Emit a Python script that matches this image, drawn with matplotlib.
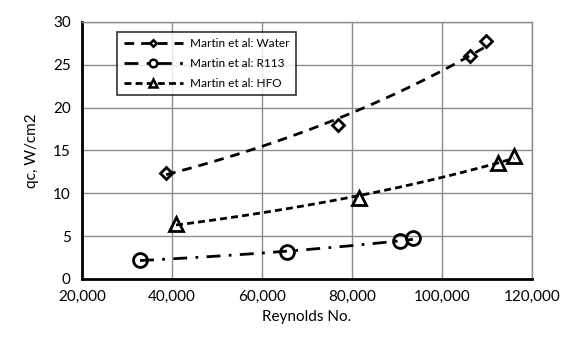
import matplotlib.pyplot as plt
import numpy as np
from matplotlib.ticker import FuncFormatter

plt.rcParams['font.family'] = ['Lato', 'DejaVu Sans']

re_water = [38700, 76900, 106200, 109800]
qc_water = [12.4, 18.0, 26.0, 27.8]

re_r113 = [32900, 65500, 90700, 93500]
qc_r113 = [2.2, 3.1, 4.4, 4.8]

re_hfo = [40900, 81600, 112400, 116000]
qc_hfo = [6.4, 9.4, 13.5, 14.4]


def exp_trend(x, y):
    # excel-style exponential trendline
    x = np.array(x, dtype=float)
    fit = np.polyfit(x, np.log(y), 1)
    xs = np.linspace(x.min(), x.max(), 100)
    return xs, np.exp(np.polyval(fit, xs))


fig = plt.figure(figsize=(5.65, 3.47), dpi=100)
ax = fig.add_axes([0.145, 0.196, 0.797, 0.741])

series = [
    (re_water, qc_water, 'D', 6, (0, (3.5, 2.5)), 'Martin et al: Water'),
    (re_r113, qc_r113, 'o', 10, (0, (5, 3, 1, 3)), 'Martin et al: R113'),
    (re_hfo, qc_hfo, '^', 10, (0, (2.5, 1.5)), 'Martin et al: HFO'),
]
for x, y, mk, ms, ls, lab in series:
    xs, ys = exp_trend(x, y)
    ax.plot(xs, ys, color='black', lw=2, linestyle=ls, zorder=3)
    ax.plot(x, y, linestyle='none', marker=mk, ms=ms, mfc='none', mec='black',
            mew=2, zorder=4)
    ax.plot([], [], color='black', lw=2, linestyle=ls, marker=mk, ms=ms * 0.55,
            mfc='white', mec='black', mew=1.8, label=lab)

ax.set_xlim(20000, 120000)
ax.set_ylim(0, 30)
ax.set_xticks(np.arange(20000, 120001, 20000))
ax.set_yticks(np.arange(0, 31, 5))
ax.xaxis.set_major_formatter(FuncFormatter(lambda v, p: f'{int(v):,}'))
ax.grid(True, color='#8c8c8c', lw=1)
ax.set_axisbelow(True)
ax.tick_params(length=0, labelsize=11, pad=8)
for s in ['top', 'right']:
    ax.spines[s].set_color('#8c8c8c')
    ax.spines[s].set_linewidth(1)
for s in ['left', 'bottom']:
    ax.spines[s].set_color('black')
    ax.spines[s].set_linewidth(2)

ax.set_xlabel('Reynolds No.', fontsize=11)
ax.set_ylabel('qc, W/cm2', fontsize=11, labelpad=10)

leg = ax.legend(loc='upper left', bbox_to_anchor=(0.065, 0.985), fontsize=8.5,
                frameon=True, fancybox=False, edgecolor='black',
                handlelength=5, handletextpad=0.6, borderpad=0.55,
                labelspacing=0.75)
leg.get_frame().set_linewidth(1.2)

fig.savefig('out.png', dpi=100)
